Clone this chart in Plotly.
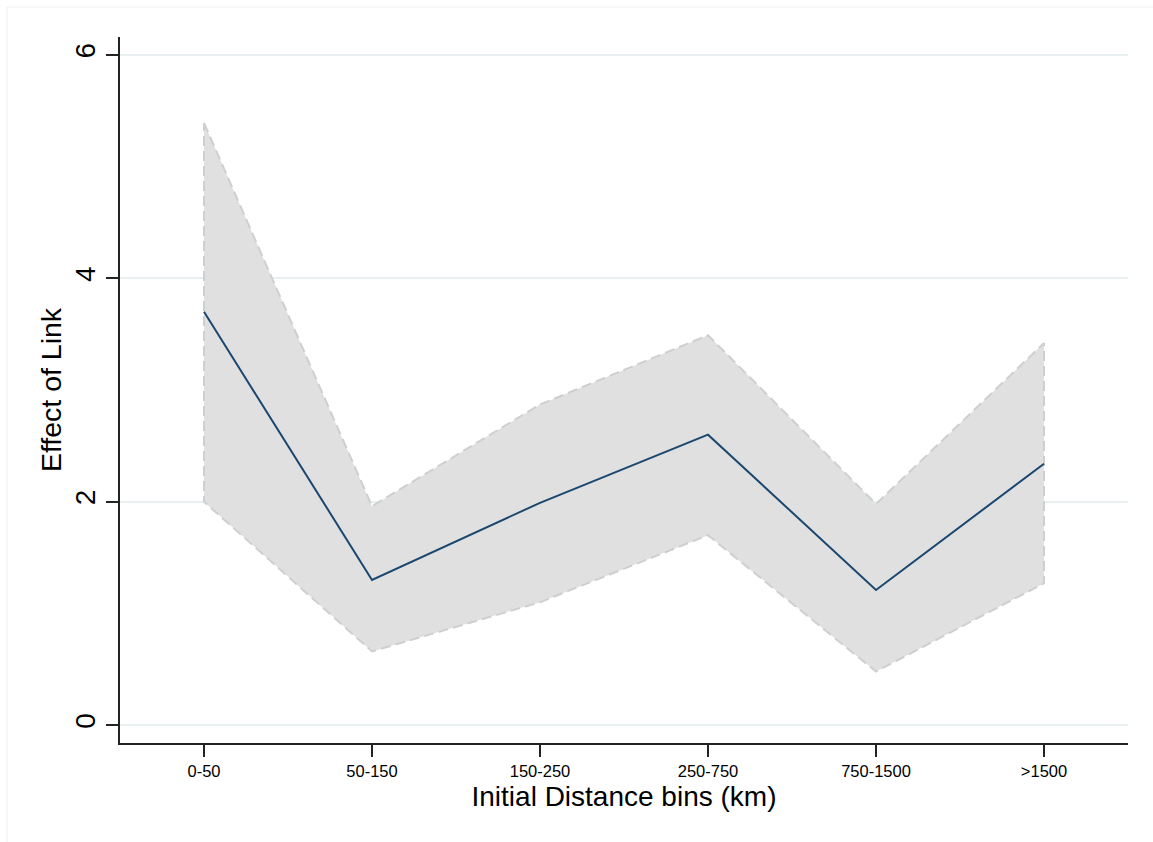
import plotly.graph_objects as go

# Distance bins and estimated effect with its confidence band
bins = ["0-50", "50-150", "150-250", "250-750", "750-1500", ">1500"]
effect = [3.70, 1.30, 1.99, 2.60, 1.21, 2.34]
upper = [5.39, 1.96, 2.87, 3.49, 1.98, 3.42]
lower = [2.00, 0.66, 1.10, 1.70, 0.48, 1.27]
y_ticks = [0, 2, 4, 6]

FONT = "Liberation Sans, Arial, Helvetica, sans-serif"

# closed outline of the band: upper edge left→right, lower edge right→left
band_x = bins + bins[::-1] + bins[:1]
band_y = upper + lower[::-1] + upper[:1]

fig = go.Figure()
fig.add_trace(go.Scatter(
    x=band_x, y=band_y, mode="lines", fill="toself",
    fillcolor="#e0e0e0",
    line=dict(color="#cdd0d0", width=2, dash="10px,5px"),
    hoverinfo="skip", showlegend=False,
))
fig.add_trace(go.Scatter(
    x=bins, y=effect, mode="lines",
    line=dict(color="#1a476f", width=2),
    showlegend=False,
))

fig.update_layout(
    width=1153, height=842,
    margin=dict(l=120, r=25, t=37, b=99, autoexpand=False),
    paper_bgcolor="white", plot_bgcolor="white",
    font=dict(family=FONT, color="black"),
    xaxis=dict(
        type="category", categoryorder="array", categoryarray=bins,
        range=[-0.5, 5.5],
        showgrid=False, zeroline=False,
        showline=True, linecolor="#222", linewidth=1.5,
        ticks="outside", ticklen=12, tickwidth=1.5, tickcolor="#222",
        tickfont=dict(size=16.5, family=FONT),
        title=dict(text="Initial Distance bins (km)",
                   font=dict(size=28, family=FONT), standoff=8),
        automargin=False,
    ),
    yaxis=dict(
        range=[-0.16, 6.16],
        tickvals=y_ticks, ticktext=[str(v) for v in y_ticks],
        tickangle=-90,
        showgrid=True, gridcolor="#e9f0f1", gridwidth=2,
        zeroline=False,
        showline=True, linecolor="#222", linewidth=1.5,
        ticks="outside", ticklen=12, tickwidth=1.5, tickcolor="#222",
        tickfont=dict(size=28, family=FONT),
        title=dict(text="Effect of Link",
                   font=dict(size=28.5, family=FONT), standoff=0),
        automargin=False,
    ),
    shapes=[dict(
        type="rect", xref="paper", yref="paper",
        x0=-113 / 1008, x1=1.2, y0=-0.2, y1=736 / 706,
        line=dict(color="#efefef", width=1), fillcolor="rgba(0,0,0,0)",
        layer="below",
    )],
)

fig.write_html("out.html")
